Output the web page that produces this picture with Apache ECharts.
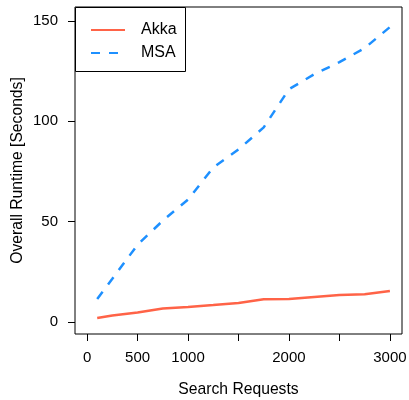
<!DOCTYPE html>
<html>
<head>
<meta charset="utf-8">
<script src="https://cdn.jsdelivr.net/npm/echarts@6/dist/echarts.min.js"></script>
<style>
  html, body { margin: 0; padding: 0; background: #fff; }
  #chart { width: 409px; height: 400px; }
</style>
</head>
<body>
<div id="chart"></div>
<script>
// search requests (x values)
var requests = [100, 250, 500, 750, 1000, 1250, 1500, 1750, 2000, 2250, 2500, 2750, 3000];
// overall runtime in seconds
var akka = [2.0, 3.2, 4.7, 6.7, 7.5, 8.4, 9.5, 11.3, 11.4, 12.5, 13.5, 13.8, 15.4];
var msa = [11.5, 21.5, 38.5, 50.5, 61, 77, 86, 97, 116, 123.5, 129.5, 136.5, 147];

var xTicks = [0, 500, 1000, 1500, 2000, 2500, 3000];
var xLabels = [0, 500, 1000, 2000, 3000];
var yTicks = [0, 50, 100, 150];

function pairs(xs, ys) {
    return xs.map(function (x, i) { return [x, ys[i]]; });
}

function plain(v) {
    return String(v);
}

var font = '"Liberation Sans", Arial, sans-serif';

var option = {
    animation: false,
    grid: {
        left: 75,
        right: 7,
        top: 7,
        bottom: 66,
        outerBoundsMode: 'none',
        containLabel: false,
        show: true,
        borderColor: '#000',
        borderWidth: 1
    },
    legend: {
        orient: 'vertical',
        left: 90,
        top: 22,
        itemWidth: 34,
        itemHeight: 14,
        itemGap: 7,
        padding: 0,
        itemStyle: { opacity: 0 },
        textStyle: {
            fontFamily: font,
            fontSize: 16,
            color: '#000',
            padding: [0, 0, 0, 11]
        },
        data: ['Akka', 'MSA']
    },
    graphic: [{
        type: 'rect',
        z: 3,
        shape: { x: 75.5, y: 7.5, width: 110, height: 64 },
        style: { fill: '#fff', stroke: '#000', lineWidth: 1 }
    }],
    xAxis: {
        type: 'value',
        min: -120,
        max: 3120,
        name: 'Search Requests',
        nameLocation: 'middle',
        nameGap: 48,
        nameMoveOverlap: false,
        nameTextStyle: { fontFamily: font, fontSize: 15.7, color: '#000' },
        axisLine: { show: false, onZero: false },
        splitLine: { show: false },
        axisTick: {
            show: true,
            length: 7,
            customValues: xTicks,
            lineStyle: { color: '#000', width: 1 }
        },
        axisLabel: {
            customValues: xLabels,
            formatter: plain,
            margin: 16,
            fontFamily: font,
            fontSize: 15,
            color: '#000'
        }
    },
    yAxis: {
        type: 'value',
        min: -6,
        max: 157,
        name: 'Overall Runtime [Seconds]',
        nameLocation: 'middle',
        nameGap: 49,
        nameMoveOverlap: false,
        nameTextStyle: { fontFamily: font, fontSize: 15.7, color: '#000' },
        axisLine: { show: false, onZero: false },
        splitLine: { show: false },
        axisTick: {
            show: true,
            length: 7,
            customValues: yTicks,
            lineStyle: { color: '#000', width: 1 }
        },
        axisLabel: {
            customValues: yTicks,
            formatter: plain,
            margin: 17,
            fontFamily: font,
            fontSize: 15,
            color: '#000'
        }
    },
    series: [{
        name: 'Akka',
        type: 'line',
        data: pairs(requests, akka),
        showSymbol: false,
        symbol: 'none',
        color: '#FF6347',
        lineStyle: { color: '#FF6347', width: 2.5 }
    }, {
        name: 'MSA',
        type: 'line',
        data: pairs(requests, msa),
        showSymbol: false,
        symbol: 'none',
        color: '#1E90FF',
        lineStyle: { color: '#1E90FF', width: 2.5, type: [9, 9] }
    }]
};

var myChart = echarts.init(document.getElementById('chart'));
myChart.setOption(option);
</script>
</body>
</html>
